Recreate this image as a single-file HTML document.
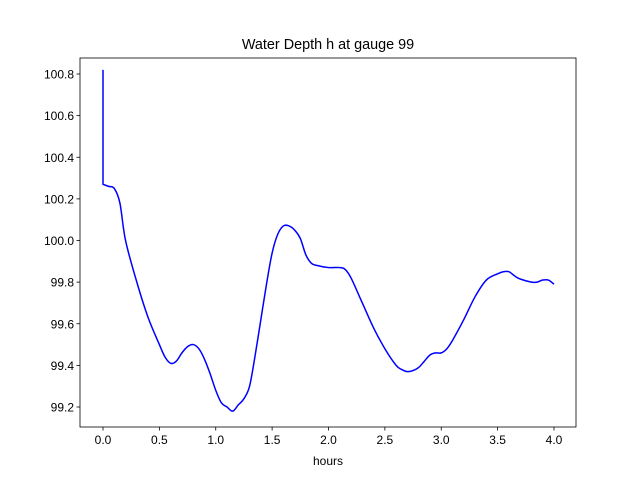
<!DOCTYPE html>
<html><head><meta charset="utf-8"><style>
body{margin:0;background:#fff;}
svg{display:block;font-family:"Liberation Sans","DejaVu Sans",sans-serif;}
</style></head><body>
<svg id="chart" width="640" height="480"></svg>
<script>
const hours=[0,0,0.05,0.1,0.15,0.2,0.3,0.4,0.5,0.55,0.6,0.65,0.7,0.75,0.8,0.85,0.9,0.95,1.0,1.05,1.1,1.15,1.2,1.25,1.3,1.35,1.4,1.45,1.5,1.55,1.6,1.65,1.7,1.75,1.8,1.85,1.9,2.0,2.1,2.15,2.2,2.3,2.4,2.5,2.6,2.65,2.7,2.75,2.8,2.85,2.9,2.95,3.0,3.05,3.1,3.2,3.3,3.4,3.5,3.55,3.6,3.65,3.7,3.8,3.85,3.9,3.95,4.0];
const depth=[100.82,100.27,100.26,100.25,100.18,100.0,99.8,99.63,99.5,99.44,99.41,99.42,99.46,99.49,99.5,99.48,99.43,99.36,99.28,99.22,99.2,99.18,99.21,99.24,99.3,99.45,99.62,99.79,99.94,100.03,100.07,100.07,100.05,100.01,99.93,99.89,99.88,99.87,99.87,99.86,99.82,99.7,99.58,99.48,99.4,99.38,99.37,99.375,99.39,99.42,99.45,99.46,99.46,99.48,99.52,99.62,99.73,99.81,99.84,99.85,99.85,99.83,99.815,99.8,99.8,99.81,99.81,99.79];
const xTicks=["0.0","0.5","1.0","1.5","2.0","2.5","3.0","3.5","4.0"];
const yTicks=["99.2","99.4","99.6","99.8","100.0","100.2","100.4","100.6","100.8"];
const NS="http://www.w3.org/2000/svg";
const svg=document.getElementById('chart');
const L=80,R=576,T=58,B=427;
const xs=v=>103+(v-0)*(554-103)/4;
const ys=v=>407-(v-99.2)*(407-74)/1.6;
function mk(tag,attrs,parent){const e=document.createElementNS(NS,tag);for(const k in attrs)e.setAttribute(k,attrs[k]);(parent||svg).appendChild(e);return e;}
// smooth line (Catmull-Rom) after initial vertical spike
const P=hours.map((h,i)=>[xs(h),ys(depth[i])]);
let d='M'+P[0][0].toFixed(2)+','+P[0][1].toFixed(2)+' L'+P[1][0].toFixed(2)+','+P[1][1].toFixed(2);
for(let i=1;i<P.length-1;i++){
 const p0=P[Math.max(1,i-1)],p1=P[i],p2=P[i+1],p3=P[Math.min(P.length-1,i+2)];
 const c1=[p1[0]+(p2[0]-p0[0])/6,p1[1]+(p2[1]-p0[1])/6];
 const c2=[p2[0]-(p3[0]-p1[0])/6,p2[1]-(p3[1]-p1[1])/6];
 d+=' C'+c1.map(v=>v.toFixed(2)).join(',')+' '+c2.map(v=>v.toFixed(2)).join(',')+' '+p2.map(v=>v.toFixed(2)).join(',');
}
const line=mk('path',{d:d,fill:'none',stroke:'#0000ff','stroke-width':1.5,'stroke-linejoin':'round'});


const frame=mk('rect',{x:L,y:T,width:R-L,height:B-T,fill:'none',stroke:'#000','stroke-width':0.8});


xTicks.forEach(t=>{const x=xs(parseFloat(t));
 const tk=mk('line',{x1:x,x2:x,y1:B,y2:B+3.5,stroke:'#000','stroke-width':0.8});
 
 
 const tx=mk('text',{x:x,y:B+17,'text-anchor':'middle','font-size':12});tx.textContent=t;
 
 });
yTicks.forEach(t=>{const y=ys(parseFloat(t));
 const tk=mk('line',{x1:L-3.5,x2:L,y1:y,y2:y,stroke:'#000','stroke-width':0.8});
 
 
 const tx=mk('text',{x:L-6,y:y+4.5,'text-anchor':'end','font-size':12});tx.textContent=t;
 
 });
const title=mk('text',{x:(L+R)/2,y:49,'text-anchor':'middle','font-size':14.4});title.textContent='Water Depth h at gauge 99';


const xl=mk('text',{x:(L+R)/2,y:465,'text-anchor':'middle','font-size':12});xl.textContent='hours';


</script>
</body></html>
